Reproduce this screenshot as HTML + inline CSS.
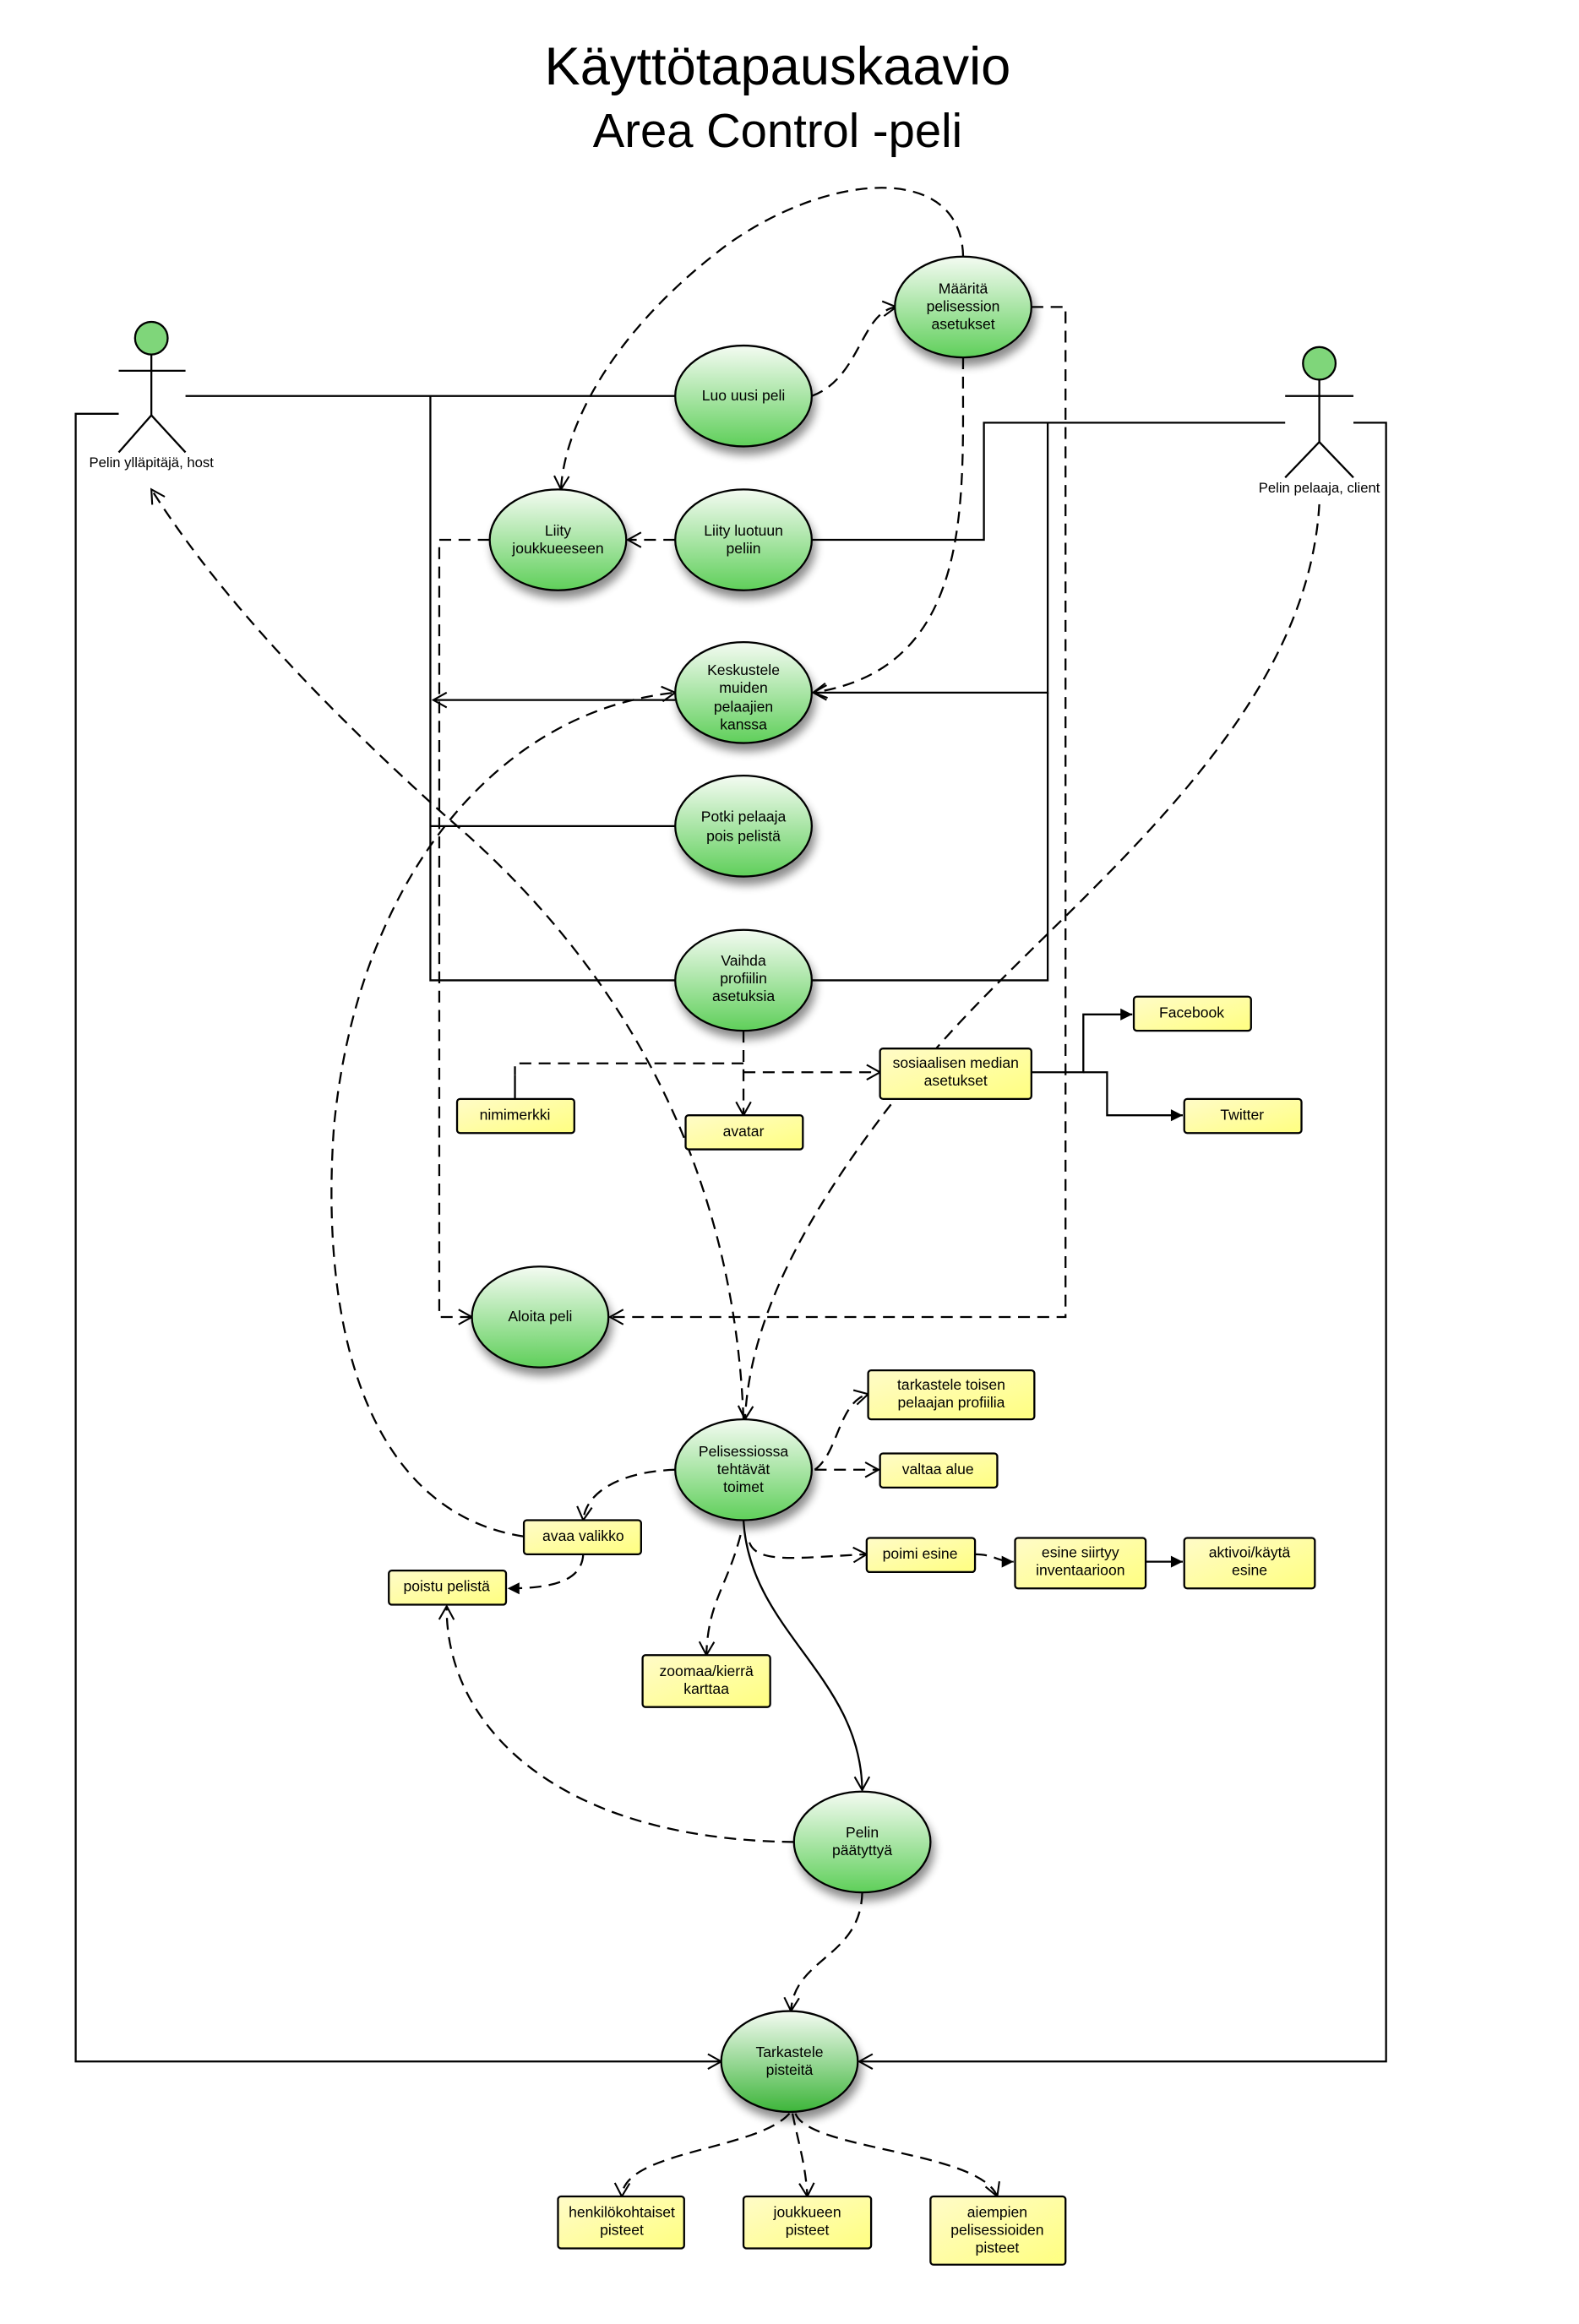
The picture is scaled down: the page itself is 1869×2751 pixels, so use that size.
<!DOCTYPE html>
<html><head><meta charset="utf-8"><style>
html,body{margin:0;padding:0;background:#fff}
svg{display:block}
text{font-family:"Liberation Sans",sans-serif;fill:#000}
</style></head><body>
<svg width="1869" height="2751" viewBox="0 0 1064 1567" preserveAspectRatio="none" xmlns="http://www.w3.org/2000/svg">
<defs>
<linearGradient id="g" x1="0" y1="0" x2="0" y2="1"><stop offset="0" stop-color="#f4fbf2"/><stop offset="1" stop-color="#5fcf5a"/></linearGradient>
<linearGradient id="g2" x1="0" y1="0" x2="0" y2="1"><stop offset="0" stop-color="#f4fbf2"/><stop offset="1" stop-color="#3db53a"/></linearGradient>
<linearGradient id="y" x1="0" y1="0" x2="1" y2="1"><stop offset="0" stop-color="#fffbc8"/><stop offset="1" stop-color="#ffff80"/></linearGradient>
<filter id="sh" x="-30%" y="-30%" width="160%" height="170%"><feGaussianBlur in="SourceAlpha" stdDeviation="3"/><feOffset dx="2" dy="5"/><feComponentTransfer><feFuncA type="linear" slope="0.45"/></feComponentTransfer><feMerge><feMergeNode/><feMergeNode in="SourceGraphic"/></feMerge></filter>
<marker id="o" markerWidth="12" markerHeight="12" refX="10" refY="6" orient="auto" markerUnits="userSpaceOnUse"><path d="M1,1 L10,6 L1,11" fill="none" stroke="#000" stroke-width="1.2"/></marker>
<marker id="f" markerWidth="10" markerHeight="10" refX="9" refY="5" orient="auto" markerUnits="userSpaceOnUse"><path d="M1,1 L9,5 L1,9 Z" fill="#000"/></marker>
</defs>

<text x="524" y="57" font-size="36" text-anchor="middle">Käyttötapauskaavio</text>
<text x="524" y="99" font-size="32" text-anchor="middle">Area Control -peli</text>

<g stroke="#000" stroke-width="1.3" fill="none">
<circle cx="102" cy="228" r="11" fill="#7fd67a"/>
<line x1="102" y1="239" x2="102" y2="280"/><line x1="80" y1="250" x2="125" y2="250"/>
<line x1="102" y1="280" x2="80" y2="305"/><line x1="102" y1="280" x2="125" y2="305"/>
<circle cx="889" cy="245" r="11" fill="#7fd67a"/>
<line x1="889" y1="256" x2="889" y2="298"/><line x1="866" y1="267" x2="912" y2="267"/>
<line x1="889" y1="298" x2="866" y2="322"/><line x1="889" y1="298" x2="912" y2="322"/>
</g>
<text x="102" y="315" font-size="9.5" text-anchor="middle">Pelin ylläpitäjä, host</text>
<text x="889" y="332" font-size="9.5" text-anchor="middle">Pelin pelaaja, client</text>

<g stroke="#000" stroke-width="1.3" fill="none">
<path d="M125,267 H455"/>
<path d="M290,267 V661 H455"/>
<path d="M290,557 H455"/>
<path d="M455,472 H292" marker-end="url(#o)"/>
<path d="M80,279 H51 V1390 H486" marker-end="url(#o)"/>
<path d="M866,285 H663 V364 H547"/>
<path d="M706,285 V467 H548" marker-end="url(#o)"/>
<path d="M706,467 V661 H547"/>
<path d="M912,285 H934 V1390 H579" marker-end="url(#o)"/>
<path d="M695,723 H730 V684 H763" marker-end="url(#f)"/>
<path d="M730,723 H746 V752 H797" marker-end="url(#f)"/>
<path d="M347,741 V725"/>
<path d="M501,1025 C505,1100 580,1130 581,1207" marker-end="url(#o)"/>
<path d="M772,1053 H797" marker-end="url(#f)"/>
</g>

<g stroke="#000" stroke-width="1.3" fill="none" stroke-dasharray="8,5">
<path d="M547,267 C580,255 580,210 604,207" marker-end="url(#o)"/>
<path d="M649,173 C648,110 560,115 490,165 C410,225 380,290 378,330" marker-end="url(#o)"/>
<path d="M695,207 H718 V888 H411" marker-end="url(#o)"/>
<path d="M649,241 C648,330 660,450 548,467" marker-end="url(#o)"/>
<path d="M455,364 H423" marker-end="url(#o)"/>
<path d="M330,364 H296 V888 H318" marker-end="url(#o)"/>
<path d="M501,957 C495,800 430,660 300,550 C200,460 140,390 102,330" marker-end="url(#o)"/>
<path d="M889,340 C880,500 700,620 620,720 C530,830 505,900 502,957" marker-end="url(#o)"/>
<path d="M353,1036 C250,1020 215,900 225,760 C240,600 330,480 455,467" marker-end="url(#o)"/>
<path d="M501,695 V752" marker-end="url(#o)"/>
<path d="M501,717 H347 V725"/>
<path d="M501,723 H593" marker-end="url(#o)"/>
<path d="M455,991 C420,992 395,1005 393,1025" marker-end="url(#o)"/>
<path d="M393,1048 C392,1065 375,1071 342,1071" marker-end="url(#f)"/>
<path d="M549,991 C565,980 565,945 585,940" marker-end="url(#o)"/>
<path d="M549,991 H592" marker-end="url(#o)"/>
<path d="M505,1040 C510,1055 540,1050 584,1048" marker-end="url(#o)"/>
<path d="M657,1048 C670,1048 672,1053 683,1053" marker-end="url(#f)"/>
<path d="M499,1035 C490,1070 477,1080 476,1116" marker-end="url(#o)"/>
<path d="M535,1242 C370,1240 300,1160 301,1083" marker-end="url(#o)"/>
<path d="M581,1276 C580,1320 535,1320 533,1356" marker-end="url(#o)"/>
<path d="M532,1425 C510,1450 420,1450 419,1481" marker-end="url(#o)"/>
<path d="M534,1425 C538,1445 543,1460 544,1481" marker-end="url(#o)"/>
<path d="M536,1425 C545,1450 660,1450 672,1481" marker-end="url(#o)"/>
</g>

<g stroke="#000" stroke-width="1.3" filter="url(#sh)">
<ellipse cx="649" cy="207" rx="46" ry="34" fill="url(#g)"/>
<ellipse cx="501" cy="267" rx="46" ry="34" fill="url(#g)"/>
<ellipse cx="376" cy="364" rx="46" ry="34" fill="url(#g)"/>
<ellipse cx="501" cy="364" rx="46" ry="34" fill="url(#g)"/>
<ellipse cx="501" cy="467" rx="46" ry="34" fill="url(#g)"/>
<ellipse cx="501" cy="557" rx="46" ry="34" fill="url(#g)"/>
<ellipse cx="501" cy="661" rx="46" ry="34" fill="url(#g)"/>
<ellipse cx="364" cy="888" rx="46" ry="34" fill="url(#g)"/>
<ellipse cx="501" cy="991" rx="46" ry="34" fill="url(#g)"/>
<ellipse cx="581" cy="1242" rx="46" ry="34" fill="url(#g)"/>
<ellipse cx="532" cy="1390" rx="46" ry="34" fill="url(#g2)"/>
</g>
<g font-size="10" text-anchor="middle">
<text x="649" y="198">Määritä</text><text x="649" y="210">pelisession</text><text x="649" y="222">asetukset</text>
<text x="501" y="270">Luo uusi peli</text>
<text x="376" y="361">Liity</text><text x="376" y="373">joukkueeseen</text>
<text x="501" y="361">Liity luotuun</text><text x="501" y="373">peliin</text>
<text x="501" y="455">Keskustele</text><text x="501" y="467">muiden</text><text x="501" y="480">pelaajien</text><text x="501" y="492">kanssa</text>
<text x="501" y="554">Potki pelaaja</text><text x="501" y="567">pois pelistä</text>
<text x="501" y="651">Vaihda</text><text x="501" y="663">profiilin</text><text x="501" y="675">asetuksia</text>
<text x="364" y="891">Aloita peli</text>
<text x="501" y="982">Pelisessiossa</text><text x="501" y="994">tehtävät</text><text x="501" y="1006">toimet</text>
<text x="581" y="1239">Pelin</text><text x="581" y="1251">päätyttyä</text>
<text x="532" y="1387">Tarkastele</text><text x="532" y="1399">pisteitä</text>
</g>

<g stroke="#000" stroke-width="1.3" fill="url(#y)">
<rect x="764" y="672" width="79" height="23" rx="2"/>
<rect x="593" y="707" width="102" height="34" rx="2"/>
<rect x="798" y="741" width="79" height="23" rx="2"/>
<rect x="308" y="741" width="79" height="23" rx="2"/>
<rect x="462" y="752" width="79" height="23" rx="2"/>
<rect x="585" y="924" width="112" height="33" rx="2"/>
<rect x="593" y="980" width="79" height="23" rx="2"/>
<rect x="353" y="1025" width="79" height="23" rx="2"/>
<rect x="262" y="1059" width="79" height="23" rx="2"/>
<rect x="584" y="1037" width="73" height="23" rx="2"/>
<rect x="684" y="1037" width="88" height="34" rx="2"/>
<rect x="798" y="1037" width="88" height="34" rx="2"/>
<rect x="433" y="1116" width="86" height="35" rx="2"/>
<rect x="376" y="1481" width="85" height="35" rx="2"/>
<rect x="501" y="1481" width="86" height="35" rx="2"/>
<rect x="627" y="1481" width="91" height="46" rx="2"/>
</g>
<g font-size="10" text-anchor="middle">
<text x="803" y="686">Facebook</text>
<text x="644" y="720">sosiaalisen median</text><text x="644" y="732">asetukset</text>
<text x="837" y="755">Twitter</text>
<text x="347" y="755">nimimerkki</text>
<text x="501" y="766">avatar</text>
<text x="641" y="937">tarkastele toisen</text><text x="641" y="949">pelaajan profiilia</text>
<text x="632" y="994">valtaa alue</text>
<text x="393" y="1039">avaa valikko</text>
<text x="301" y="1073">poistu pelistä</text>
<text x="620" y="1051">poimi esine</text>
<text x="728" y="1050">esine siirtyy</text><text x="728" y="1062">inventaarioon</text>
<text x="842" y="1050">aktivoi/käytä</text><text x="842" y="1062">esine</text>
<text x="476" y="1130">zoomaa/kierrä</text><text x="476" y="1142">karttaa</text>
<text x="419" y="1495">henkilökohtaiset</text><text x="419" y="1507">pisteet</text>
<text x="544" y="1495">joukkueen</text><text x="544" y="1507">pisteet</text>
<text x="672" y="1495">aiempien</text><text x="672" y="1507">pelisessioiden</text><text x="672" y="1519">pisteet</text>
</g>
</svg>
</body></html>
